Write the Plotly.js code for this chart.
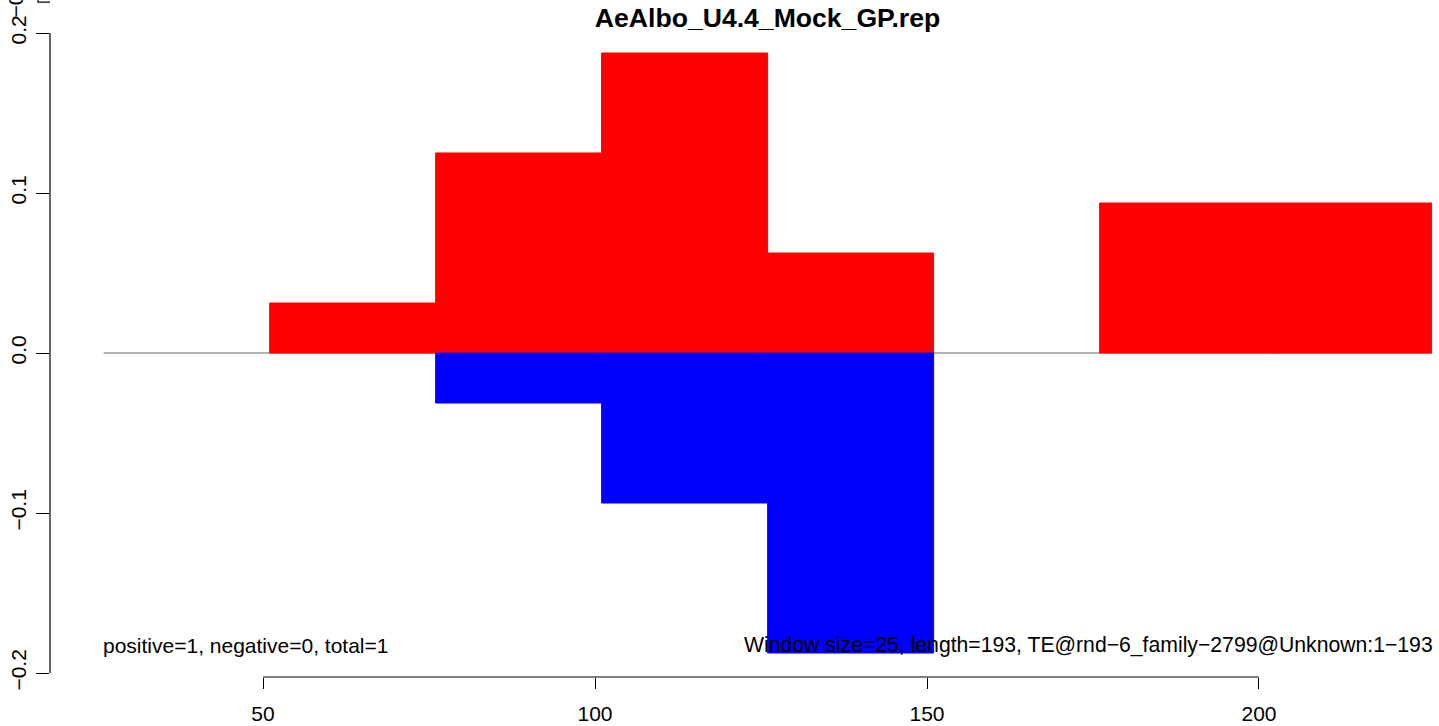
<!DOCTYPE html>
<html>
<head>
<meta charset="utf-8">
<script src="https://cdn.plot.ly/plotly-3.0.1.min.js"></script>
<style>html,body{margin:0;padding:0;background:#fff;}#chart{width:1439px;height:726px;}</style>
</head>
<body>
<div id="chart"></div>
<script>
// ---- data ----
const windowSize = 25;
const windowStarts = [26, 51, 76, 101, 126, 151, 176, 201];
const positiveValues = [0, 0.03125, 0.125, 0.1875, 0.0625, 0, 0.09375, 0.09375];
const negativeValues = [0, 0, -0.03125, -0.09375, -0.1875, 0, 0, 0];
const yTickVals = [-0.2, -0.1, 0, 0.1, 0.2];
const yTickText = ["\u22120.2", "\u22120.1", "0.0", "0.1", "0.2"];
const xTickVals = [50, 100, 150, 200];
const xTickText = ["50", "100", "150", "200"];
const titleText = "AeAlbo_U4.4_Mock_GP.rep";
const leftNote = "positive=1, negative=0, total=1";
const rightNote = "Window size=25, length=193, TE@rnd\u22126_family\u22122799@Unknown:1\u2212193";
const noteY = -0.1825;

// ---- build ----
const centers = windowStarts.map(s => s + windowSize / 2);
const FONT = "Liberation Sans, Arial, Helvetica, sans-serif";
const firstX = windowStarts[0];
const lastX = windowStarts[windowStarts.length - 1] + windowSize;

function nonZero(vals) {
  const xs = [], ys = [];
  vals.forEach((v, i) => { if (v !== 0) { xs.push(centers[i]); ys.push(v); } });
  return {xs, ys};
}
const pos = nonZero(positiveValues);
const neg = nonZero(negativeValues);

const traces = [
  {type: "bar", x: pos.xs, y: pos.ys, base: 0, width: windowSize,
   marker: {color: "#ff0000", line: {width: 1, color: "#ff0000"}}, hoverinfo: "x+y", showlegend: false},
  {type: "bar", x: neg.xs, y: neg.ys, base: 0, width: windowSize,
   marker: {color: "#0000ff", line: {width: 1, color: "#0000ff"}}, hoverinfo: "x+y", showlegend: false}
];

const layout = {
  width: 1439, height: 726,
  margin: {l: 50, r: 0, t: 0, b: 49, pad: 0},
  paper_bgcolor: "#ffffff", plot_bgcolor: "#ffffff",
  barmode: "overlay",
  showlegend: false,
  font: {family: FONT, color: "#000000", size: 21},
  title: {text: titleText, font: {family: FONT, size: 26.6, weight: "bold", color: "#000"},
          xref: "container", x: 767.5 / 1439, xanchor: "center",
          yref: "container", y: 1 - 18 / 726, yanchor: "middle"},
  xaxis: {range: [17.92, 227.11], tickvals: xTickVals, ticktext: xTickText,
          ticks: "outside", ticklen: 11, tickwidth: 1, tickcolor: "#000",
          showline: false, showgrid: false, zeroline: false,
          tickfont: {family: FONT, size: 21, color: "#000"}, ticklabelstandoff: 7},
  yaxis: {range: [-0.2025, 0.220625], tickvals: yTickVals, ticktext: yTickText,
          ticks: "outside", ticklen: 13, tickwidth: 1, tickcolor: "#000", tickangle: -90,
          showline: false, showgrid: false, zeroline: false,
          tickfont: {family: FONT, size: 21, color: "#000"}, ticklabelstandoff: 2},
  shapes: [
    {type: "line", layer: "below", xref: "x", yref: "y", x0: firstX, x1: lastX, y0: 0, y1: 0,
     line: {color: "#999999", width: 1.5}},
    {type: "line", xref: "paper", yref: "y", x0: 0, x1: 0, y0: yTickVals[0], y1: yTickVals[yTickVals.length - 1],
     line: {color: "#000", width: 1.2}},
    {type: "line", xref: "x", yref: "paper", x0: xTickVals[0], x1: xTickVals[xTickVals.length - 1], y0: 0, y1: 0,
     line: {color: "#000", width: 1.2}},
    {type: "path", xref: "paper", yref: "paper", path: "M -0.00864 1.002 L -0.00864 0.997 L 0 0.997",
     line: {color: "#000", width: 1.2}}
  ],
  annotations: [
    {text: leftNote, xref: "x", yref: "y", x: firstX, y: noteY, xanchor: "left", yanchor: "middle",
     xshift: -3, showarrow: false, font: {family: FONT, size: 21, color: "#000"}},
    {text: rightNote, xref: "x", yref: "y", x: lastX, y: noteY, xanchor: "right", yanchor: "middle",
     xshift: 3, showarrow: false, font: {family: FONT, size: 21.2, color: "#000"}},
    {text: "\u22120.2", xref: "paper", yref: "paper", x: -35 / 1389, y: 1 + 2.5 / 677,
     xanchor: "center", yanchor: "middle", textangle: -90, showarrow: false,
     font: {family: FONT, size: 21, color: "#000"}}
  ]
};

Plotly.newPlot("chart", traces, layout, {displayModeBar: false, staticPlot: true});
</script>
</body>
</html>
